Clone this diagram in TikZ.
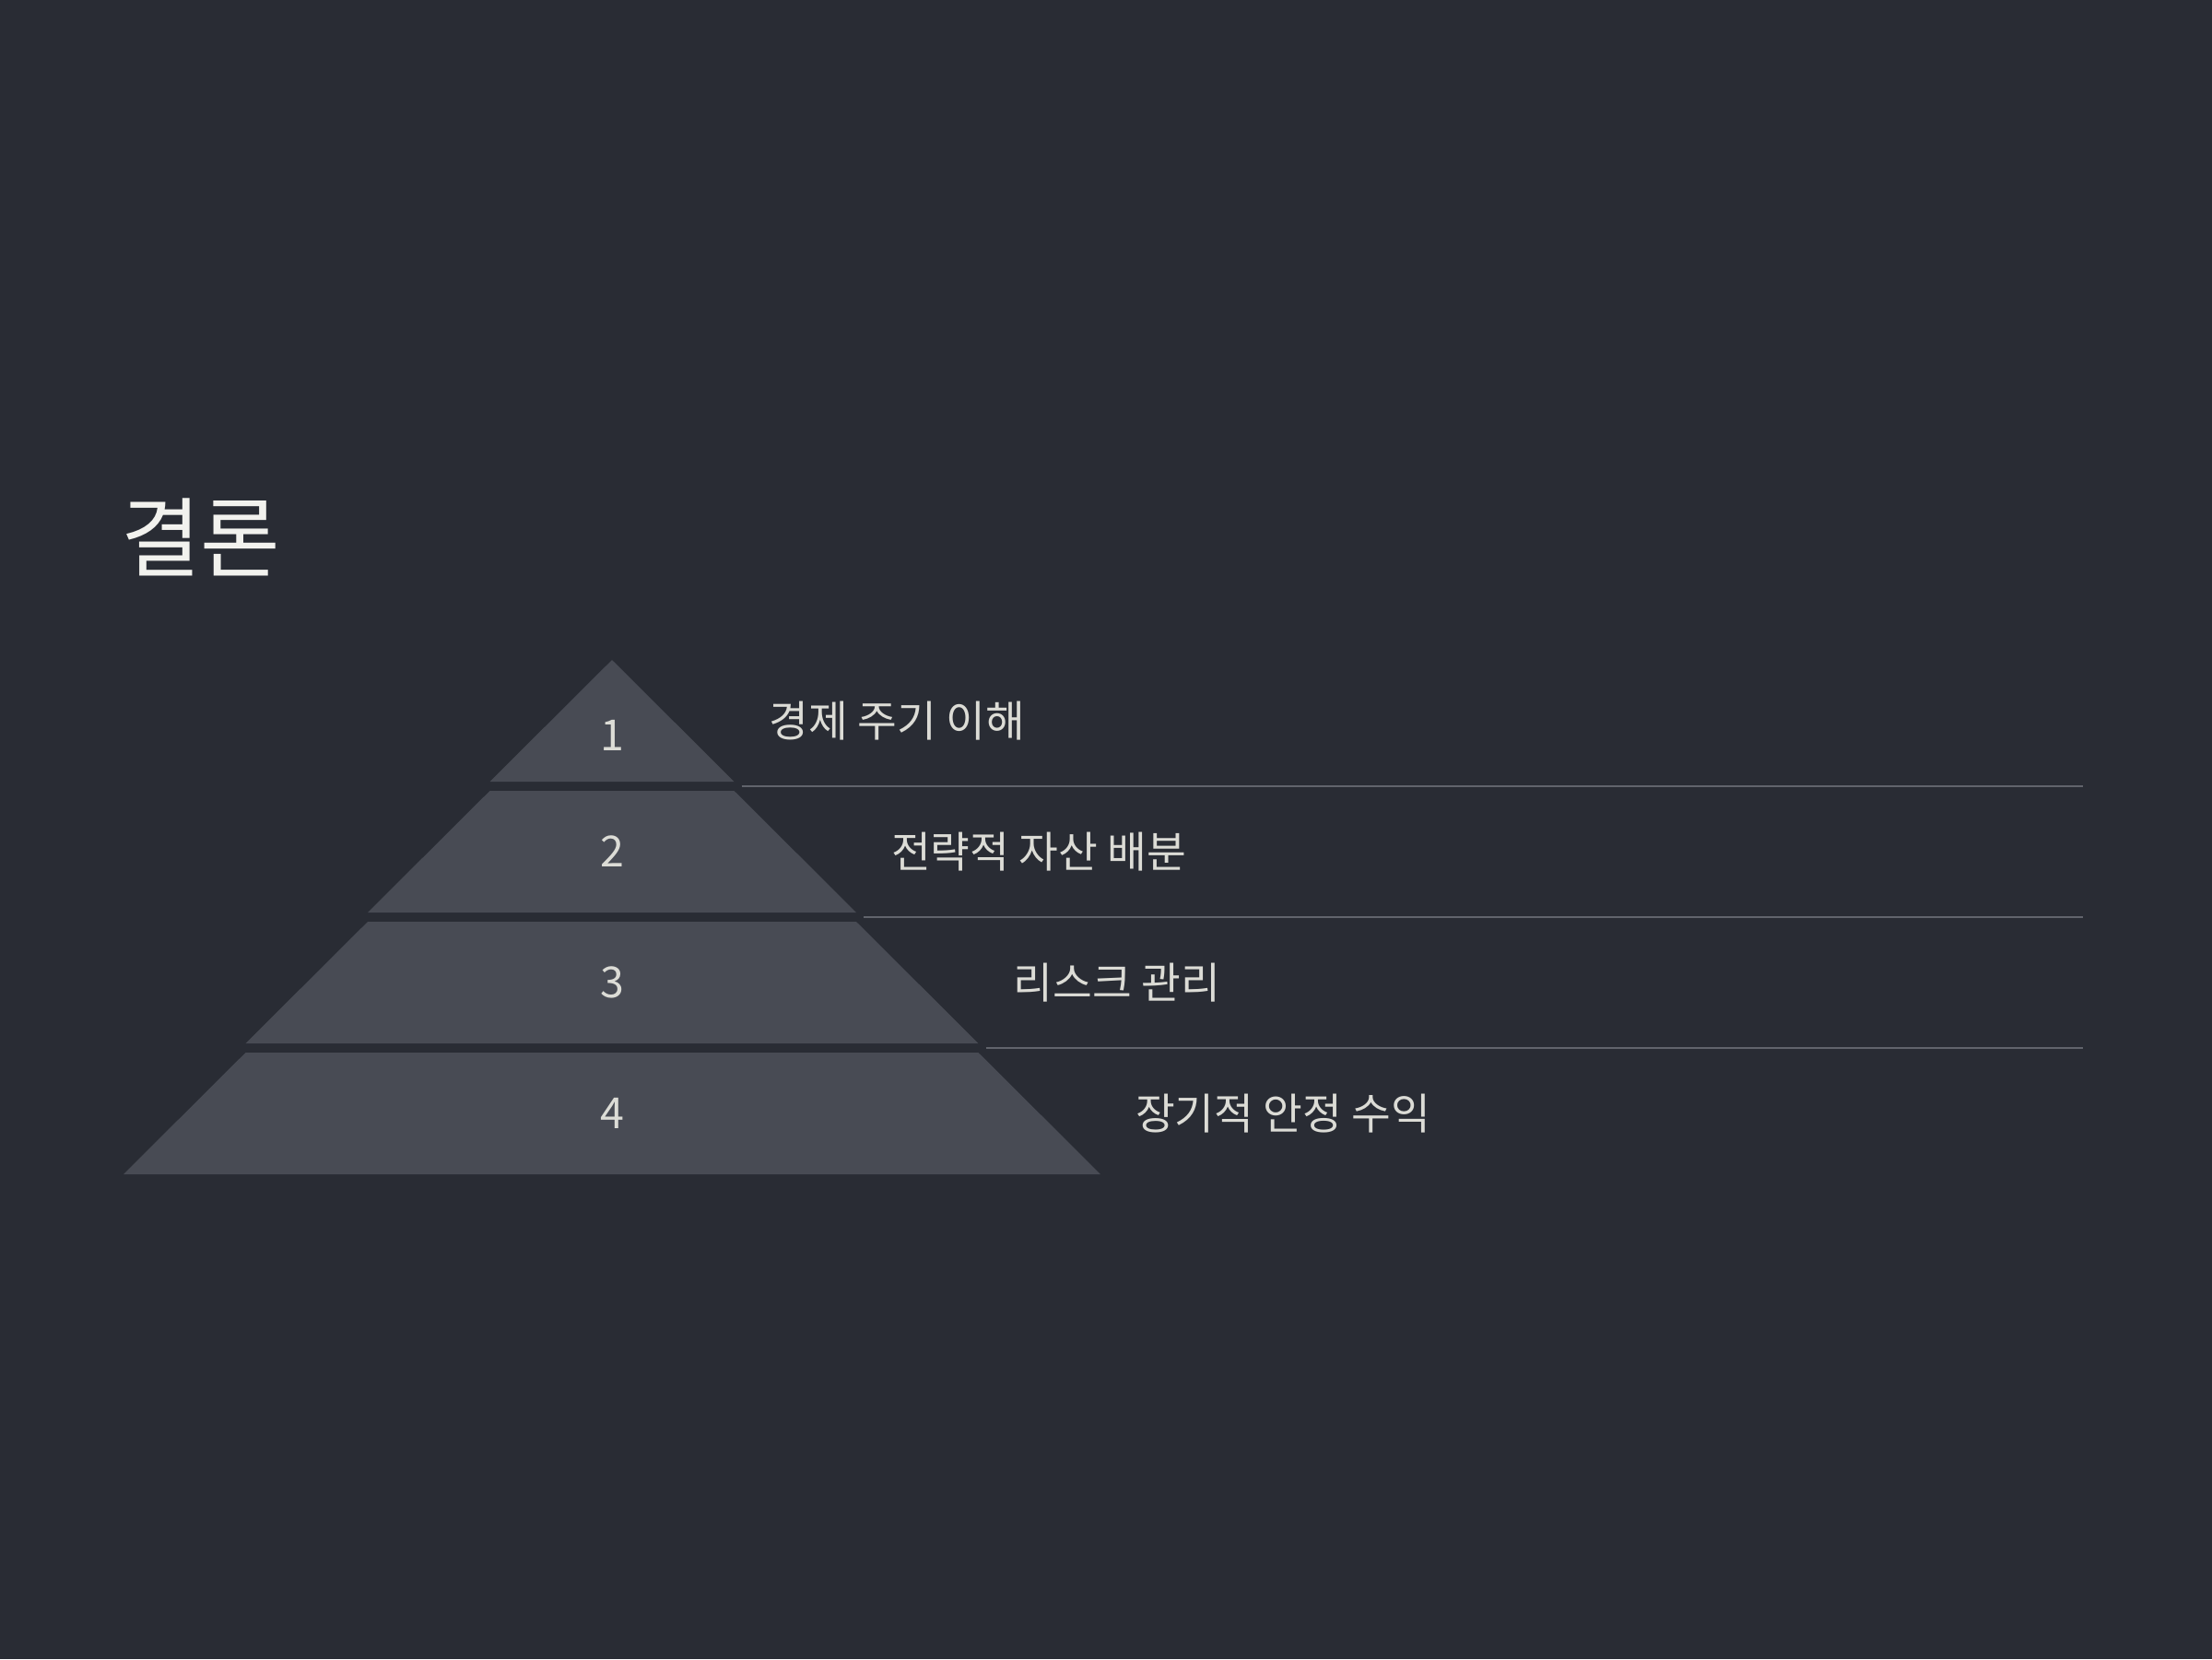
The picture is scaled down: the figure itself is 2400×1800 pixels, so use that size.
\documentclass[tikz,border=0pt]{standalone}
\usepackage{fontspec}
\setmainfont{Noto Sans CJK KR}
\usepackage{tikz}
\usetikzlibrary{positioning}
\definecolor{slideBg}{HTML}{292c34}
\definecolor{tierFill}{HTML}{484b54}
\definecolor{sepGray}{HTML}{61646c}
\definecolor{labelGray}{HTML}{dcdcd6}
\definecolor{titleWhite}{HTML}{f2f2ee}
\newcommand{\pyrtier}[5]{
    \begin{scope}
        \pgfmathsetmacro{\tTop}{\apexY+(#2-1)*(\tierH+\tierGap)}
        \pgfmathsetmacro{\tBot}{\tTop+\tierH}
        \pgfmathsetmacro{\wTop}{(#2-1)*\halfStep}
        \pgfmathsetmacro{\wBot}{#2*\halfStep}
        \fill [tierFill] ({\apexX-\wTop},\tTop) -- ({\apexX+\wTop},\tTop) -- ({\apexX+\wBot},\tBot) -- ({\apexX-\wBot},\tBot) -- cycle;
        \coordinate (#1_sep) at ({\apexX+\wBot+8},{\tBot+\tierGap*0.5});
        \coordinate (#1_sepend) at (\sepEnd,{\tBot+\tierGap*0.5});
        \node (#1_num) [numtext] at (\apexX,{\tTop+\tierH*#5}) {#3};
        \node (#1_label) [labeltext] at ({\apexX+\wBot+38},{\tTop+\tierH*0.5}) {#4};
    \end{scope}
}

\begin{document}
\begin{tikzpicture}[x=1pt, y=-1pt, inner sep=0.0 pt,
    numtext/.style={text=labelGray, font=\fontsize{46.5pt}{56pt}\selectfont, anchor=center},
    labeltext/.style={text=labelGray, font=\fontsize{46.5pt}{56pt}\selectfont, anchor=west},
    sepline/.style={draw=sepGray, line width=2pt}]
    \fill [slideBg] (0,0) rectangle (2400,1800);
    \useasboundingbox (0,0) rectangle (2400,1800);

    \pgfmathsetmacro{\apexX}{664}
    \pgfmathsetmacro{\apexY}{716}
    \pgfmathsetmacro{\tierH}{132}
    \pgfmathsetmacro{\tierGap}{10}
    \pgfmathsetmacro{\halfStep}{132.5}
    \pgfmathsetmacro{\sepEnd}{2260}

    \node (title) [text=titleWhite, font=\fontsize{94pt}{106pt}\selectfont, anchor=west] at (131,583) {결론};

    \pyrtier{tier1}{1}{1}{경제 주기 이해}{0.62}
    \pyrtier{tier2}{2}{2}{전략적 자산 배분}{0.5}
    \pyrtier{tier3}{3}{3}{리스크 관리}{0.5}
    \pyrtier{tier4}{4}{4}{장기적 안정 수익}{0.5}

    \draw [sepline] (tier1_sep) -- (tier1_sepend);
    \draw [sepline] (tier2_sep) -- (tier2_sepend);
    \draw [sepline] (tier3_sep) -- (tier3_sepend);
\end{tikzpicture}
\end{document}
